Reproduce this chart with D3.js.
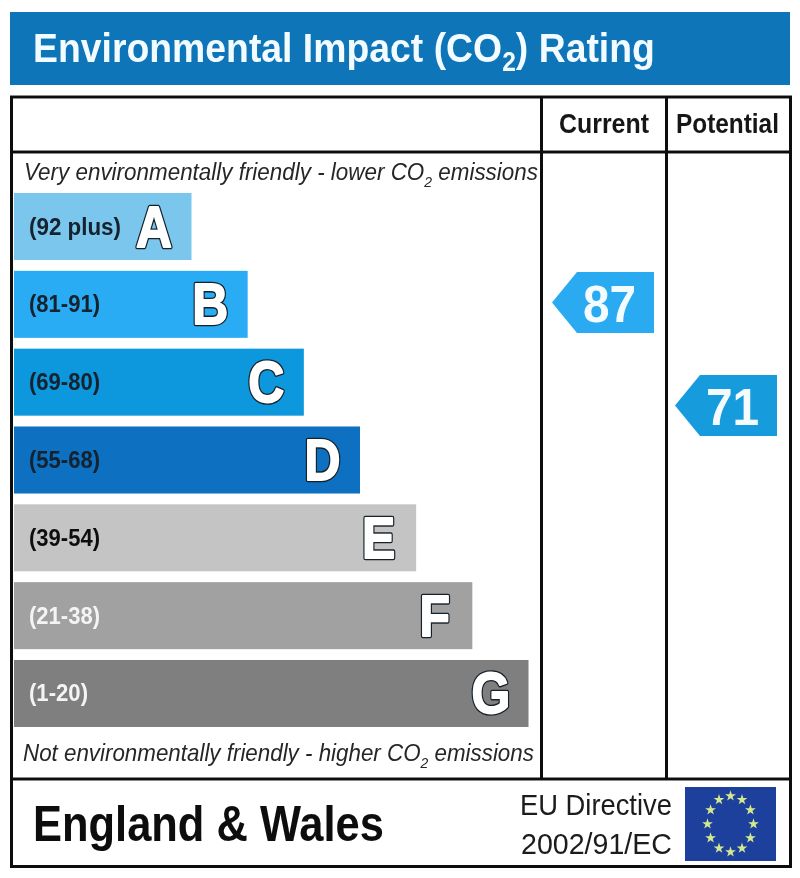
<!DOCTYPE html>
<html>
<head>
<meta charset="utf-8">
<script src="https://cdn.jsdelivr.net/npm/d3@7"></script>
<style>
  html, body { margin: 0; padding: 0; background: #fff; }
  svg { display: block; }
  text { font-family: "Liberation Sans", Arial, sans-serif; }
</style>
</head>
<body>
<div id="chart"></div>
<script>
// ratings
var bands = ["A", "B", "C", "D", "E", "F", "G"]
var ranges = ["(92 plus)", "(81-91)", "(69-80)", "(55-68)", "(39-54)", "(21-38)", "(1-20)"]
var bandLength = [1, 2, 3, 4, 5, 6, 7]
var bandColours = ["#7ac6ec", "#2aacf5", "#0f97dc", "#0a70c0", "#c4c4c4", "#a1a1a1", "#7f7f7f"]
var rangeColours = ["#14202e", "#14202e", "#14202e", "#14202e", "#111111", "#f4f4f4", "#f4f4f4"]
var columns = ["Current", "Potential"]
var ratings = [87, 71]
var ratingColours = ["#2aaaf0", "#149bdc"]
var flagStars = d3.range(12)

var width = 800, height = 878

var svg = d3.select("#chart").append("svg")
	.attr("width", width)
	.attr("height", height)

// the source is a soft, upscaled image
svg.append("filter").attr("id", "soft")
	.append("feGaussianBlur").attr("stdDeviation", 0.55)

var g = svg.append("g").attr("filter", "url(#soft)")

var x = d3.scaleLinear().domain([1, 7]).range([191.5, 528.5])
var y = d3.scaleBand().domain(bands).range([193, 727]).paddingInner(0.139)
var yRating = d3.scaleLinear().domain([87, 71]).range([302.5, 405.5])
var xColumn = d3.scaleOrdinal().domain(columns).range([552, 675])

// the source type is a narrower Arial, so squeeze each text to its measured width
function squeeze(sel, left, baseline, wanted) {
	sel.attr("transform", function() {
		var k = wanted / this.getComputedTextLength()
		return `translate(${left},${baseline}) scale(${k},1)`
	})
}

// title bar
g.append("rect")
	.attr("x", 10).attr("y", 12)
	.attr("width", 780).attr("height", 73)
	.attr("fill", "#0f74b8")

var title = g.append("text")
	.attr("fill", "#f2fbff")
	.attr("font-size", 41)
	.attr("font-weight", "bold")
title.append("tspan").text("Environmental Impact (CO")
title.append("tspan").attr("font-size", 27).attr("dy", 9).text("2")
title.append("tspan").attr("dy", -9).text(") Rating")
squeeze(title, 33, 62, 622)

// frame
g.append("rect")
	.attr("x", 11.5).attr("y", 97)
	.attr("width", 779).attr("height", 769.5)
	.attr("fill", "none")
	.attr("stroke", "#111")
	.attr("stroke-width", 3)

var rules = [[11, 152, 791, 152], [11, 779, 791, 779], [541.5, 97, 541.5, 779], [666.5, 97, 666.5, 779]]
g.selectAll(".rule")
	.data(rules)
	.join("line")
	.attr("class", "rule")
	.attr("x1", d => d[0]).attr("y1", d => d[1])
	.attr("x2", d => d[2]).attr("y2", d => d[3])
	.attr("stroke", "#111")
	.attr("stroke-width", 3)

g.append("text")
	.attr("font-size", 27).attr("font-weight", "bold").attr("fill", "#151515")
	.text(columns[0])
	.call(squeeze, 559, 133, 90)

g.append("text")
	.attr("font-size", 27).attr("font-weight", "bold").attr("fill", "#151515")
	.text(columns[1])
	.call(squeeze, 676, 133, 103)

function co2Line(yPos, left, wanted, before, after) {
	var t = g.append("text")
		.attr("font-size", 24)
		.attr("font-style", "italic")
		.attr("fill", "#262626")
	t.append("tspan").text(before)
	t.append("tspan").attr("font-size", 15).attr("dy", 7).text("2")
	t.append("tspan").attr("dy", -7).text(after)
	squeeze(t, left, yPos, wanted)
}
co2Line(180, 24, 514, "Very environmentally friendly - lower CO", " emissions")
co2Line(761, 23, 511, "Not environmentally friendly - higher CO", " emissions")

// bands
var band = g.selectAll(".band")
	.data(bands)
	.join("g")
	.attr("class", "band")

band.append("rect")
	.attr("x", 14)
	.attr("y", d => y(d))
	.attr("width", (d, i) => x(bandLength[i]) - 14)
	.attr("height", y.bandwidth())
	.attr("fill", (d, i) => bandColours[i])

band.append("text")
	.attr("x", 29)
	.attr("y", d => y(d) + y.bandwidth() / 2 + 8)
	.attr("font-size", 23)
	.attr("font-weight", "bold")
	.attr("fill", (d, i) => rangeColours[i])
	.attr("textLength", (d, i) => i == 0 ? 92 : (i == 6 ? 59 : 71))
	.attr("lengthAdjust", "spacingAndGlyphs")
	.text((d, i) => ranges[i])

// letters are fat white shapes with a dark edge, so stroke them twice
function letter(sel, strokeColour, strokeWidth) {
	sel.append("text")
		.attr("transform", (d, i) => `translate(${x(bandLength[i]) - 37.5},${y(d) + y.bandwidth() / 2 + 20}) scale(0.86,1)`)
		.attr("text-anchor", "middle")
		.attr("font-size", 58)
		.attr("font-weight", "bold")
		.attr("fill", "#fff")
		.attr("stroke", strokeColour)
		.attr("stroke-width", strokeWidth)
		.attr("stroke-linejoin", "round")
		.text(d => d)
}
band.call(letter, "#15202a", 4.6)
band.call(letter, "#fff", 1.8)

// rating arrows
var arrow = g.selectAll(".arrow")
	.data(ratings)
	.join("g")
	.attr("class", "arrow")
	.attr("transform", (d, i) => `translate(${xColumn(columns[i])},${yRating(d)})`)

arrow.append("path")
	.attr("d", d3.line()([[0, 0], [25, -30.5], [102, -30.5], [102, 30.5], [25, 30.5]]) + "Z")
	.attr("fill", (d, i) => ratingColours[i])

arrow.append("text")
	.attr("transform", "translate(57.5,19) scale(0.92,1)")
	.attr("text-anchor", "middle")
	.attr("font-size", 52)
	.attr("font-weight", "bold")
	.attr("fill", "#f4fbff")
	.text(d => d)

// footer
g.append("text")
	.attr("font-size", 50)
	.attr("font-weight", "bold")
	.attr("fill", "#0a0a0a")
	.text("England & Wales")
	.call(squeeze, 33, 841, 351)

g.append("text")
	.attr("font-size", 30)
	.attr("fill", "#1a1a1a")
	.text("EU Directive")
	.call(squeeze, 520, 815, 152)

g.append("text")
	.attr("font-size", 30)
	.attr("fill", "#1a1a1a")
	.text("2002/91/EC")
	.call(squeeze, 521, 854, 151)

// EU flag, stretched taller than wide in the source
g.append("rect")
	.attr("x", 685).attr("y", 787)
	.attr("width", 91).attr("height", 74)
	.attr("fill", "#1a409c")

var star = d3.symbol().type(d3.symbolStar).size(36)
var ring = d3.scalePoint().domain(flagStars).range([0, 2 * Math.PI * 11 / 12])

g.selectAll(".star")
	.data(flagStars)
	.join("path")
	.attr("class", "star")
	.attr("transform", d => {
		var p = d3.pointRadial(ring(d), 1)
		return `translate(${730.5 + p[0] * 23},${824 + p[1] * 28})`
	})
	.attr("d", star)
	.attr("fill", "#d4e88e")
</script>
</body>
</html>
